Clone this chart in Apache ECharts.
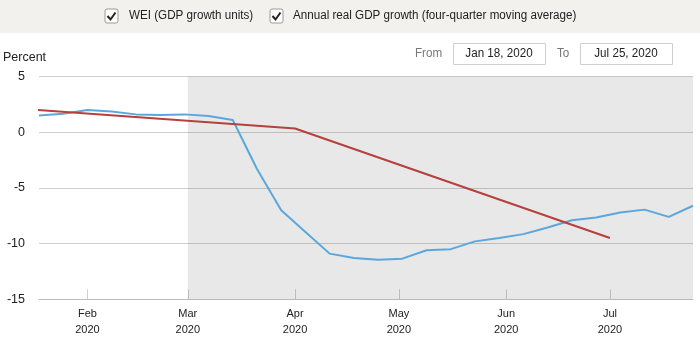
<!DOCTYPE html>
<html>
<head>
<meta charset="utf-8">
<script src="https://cdn.jsdelivr.net/npm/echarts@6/dist/echarts.min.js"></script>
<style>html,body{margin:0;padding:0;background:#fff;}#c{width:700px;height:354px;}</style>
</head>
<body>
<div id="c"></div>
<script>
// ---- data ----
const weekDates = ['2020-01-18','2020-01-25','2020-02-01','2020-02-08','2020-02-15','2020-02-22','2020-02-29',
  '2020-03-07','2020-03-14','2020-03-21','2020-03-28','2020-04-04','2020-04-11','2020-04-18','2020-04-25',
  '2020-05-02','2020-05-09','2020-05-16','2020-05-23','2020-05-30','2020-06-06','2020-06-13','2020-06-20',
  '2020-06-27','2020-07-04','2020-07-11','2020-07-18','2020-07-25'];
const weiValues = [1.5,1.65,2.0,1.85,1.6,1.55,1.6,
  1.45,1.1,-3.3,-7.0,-8.95,-10.9,-11.3,-11.45,
  -11.35,-10.6,-10.5,-9.8,-9.5,-9.15,-8.55,-7.9,
  -7.65,-7.2,-6.95,-7.6,-6.6];
const gdpDates = ['2020-01-01','2020-04-01','2020-07-01'];
const gdpValues = [2.38,0.33,-9.5];
const monthTicks = ['2020-02-01','2020-03-01','2020-04-01','2020-05-01','2020-06-01','2020-07-01'];
const monthNames = ['Jan','Feb','Mar','Apr','May','Jun','Jul','Aug','Sep','Oct','Nov','Dec'];
const seriesNames = ['WEI (GDP growth units)','Annual real GDP growth (four-quarter moving average)'];
const rangeFrom = 'Jan 18, 2020', rangeTo = 'Jul 25, 2020';
const xMin = '2020-01-18', xMax = '2020-07-25', shadeStart = '2020-03-01';

function ts(s){ const p=s.split('-'); return new Date(+p[0], +p[1]-1, +p[2]).getTime(); }

const FONT = '"Liberation Sans", Arial, Helvetica, sans-serif';
const chart = echarts.init(document.getElementById('c'));

function checkbox(x, y){
  return [
    {type:'rect', shape:{x:x, y:y, width:13, height:14, r:2}, style:{fill:'#fff', stroke:'#9a9a9a', lineWidth:1}},
    {type:'polyline', shape:{points:[[x+2.5,y+7],[x+5.5,y+10.5],[x+10.5,y+3.5]]}, style:{stroke:'#222', lineWidth:2, fill:null}}
  ];
}
function txt(x, y, s, fill, align){
  return {type:'text', x:x, y:y, scaleX:0.97,
    style:{text:s, fill:fill, font:'12px '+FONT, verticalAlign:'middle', align:align||'left'}};
}

const graphics = [
  {type:'rect', shape:{x:0,y:0,width:700,height:33}, style:{fill:'#f3f1ee'}, z:0},
  ...checkbox(105,9),
  txt(129, 16, seriesNames[0], '#222'),
  ...checkbox(270,9),
  txt(293, 16, seriesNames[1], '#222'),
  {type:'text', x:3, y:58, style:{text:'Percent', fill:'#222', font:'12.5px '+FONT, verticalAlign:'middle'}},
  txt(415, 54, 'From', '#777'),
  {type:'rect', shape:{x:453.5,y:43.5,width:92,height:21}, style:{fill:'#fff', stroke:'#cfcfcf', lineWidth:1}},
  txt(499, 54, rangeFrom, '#222', 'center'),
  txt(557, 54, 'To', '#777'),
  {type:'rect', shape:{x:580.5,y:43.5,width:92,height:21}, style:{fill:'#fff', stroke:'#cfcfcf', lineWidth:1}},
  txt(626, 54, rangeTo, '#222', 'center')
];

chart.setOption({
  animation:false,
  backgroundColor:'#fff',
  textStyle:{fontFamily:FONT},
  graphic: graphics,
  grid:{left:39, right:7, top:76.5, bottom:54.7},
  xAxis:{
    type:'value', min:ts(xMin), max:ts(xMax),
    axisLine:{show:true, onZero:false, lineStyle:{color:'#bdbdbd', width:1}},
    axisTick:{show:true, inside:true, length:10, lineStyle:{color:'#cfcfcf'}, customValues: monthTicks.map(ts)},
    splitLine:{show:false},
    axisLabel:{
      customValues: monthTicks.map(ts), margin:7, color:'#222', fontSize:11, lineHeight:16, fontFamily:FONT,
      formatter: v => monthNames[new Date(v).getMonth()] + '\n' + new Date(v).getFullYear()
    }
  },
  yAxis:{
    type:'value', min:-15, max:5, interval:5,
    axisLine:{show:false}, axisTick:{show:false},
    axisLabel:{color:'#222', fontSize:12.5, margin:14, fontFamily:FONT},
    splitLine:{show:true, lineStyle:{color:'#d0d0d0', width:1}}
  },
  series:[
    {
      name:seriesNames[0], type:'line', symbol:'none', z:2,
      data: weekDates.map((d,i)=>[ts(d), weiValues[i]]),
      lineStyle:{color:'#5ba7dd', width:2}, itemStyle:{color:'#5ba7dd'},
      markArea:{silent:true, itemStyle:{color:'rgba(0,0,0,0.09)'}, data:[[{xAxis:ts(shadeStart)},{xAxis:ts(xMax)}]]}
    },
    {
      name:seriesNames[1], type:'line', symbol:'none', z:3,
      data: gdpDates.map((d,i)=>[ts(d), gdpValues[i]]),
      lineStyle:{color:'#b5403c', width:2}, itemStyle:{color:'#b5403c'}
    }
  ]
});
</script>
</body>
</html>
